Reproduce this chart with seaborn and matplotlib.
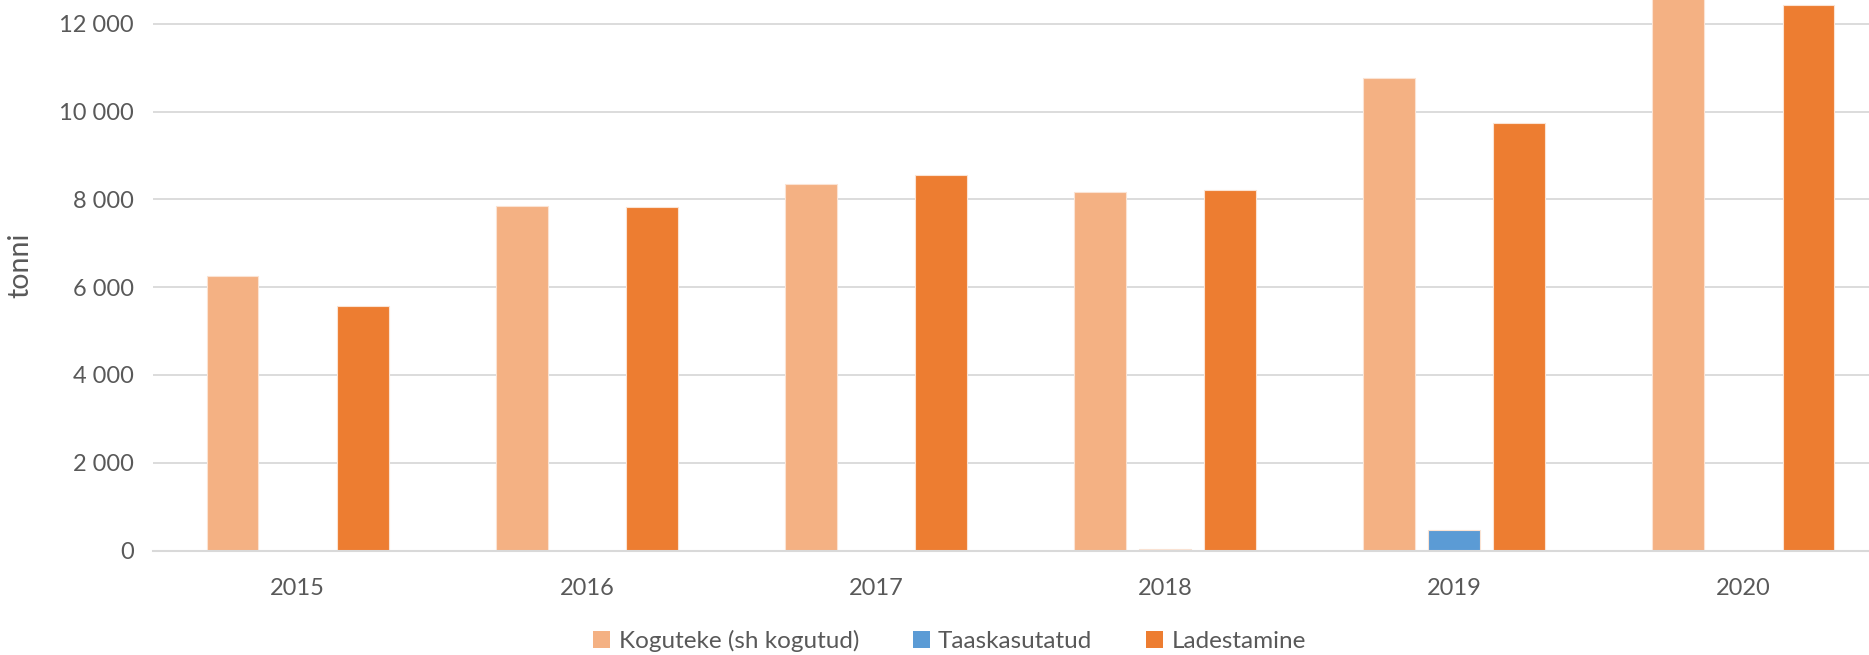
import numpy as np
import pandas as pd
import matplotlib
matplotlib.use("Agg")
import matplotlib.pyplot as plt
import seaborn as sns
from matplotlib.ticker import FuncFormatter, MultipleLocator
from matplotlib.patches import Patch

# ============================================================
# DATA (tonni)
# ============================================================
years = ["2015", "2016", "2017", "2018", "2019", "2020"]
series_names = ["Koguteke (sh kogutud)", "Taaskasutatud", "Ladestamine"]
koguteke = [6250, 7850, 8355, 8170, 10765, 13000]
taaskasutatud = [0, 0, 0, 30, 460, 0]
ladestamine = [5570, 7820, 8560, 8215, 9735, 12425]
colors = ["#F4B183", "#5B9BD5", "#ED7D31"]

df = pd.DataFrame({
    "year": years * 3,
    "series": np.repeat(series_names, len(years)),
    "value": koguteke + taaskasutatud + ladestamine,
})

# ============================================================
# PLOT
# ============================================================
sns.set_theme(style="white")
plt.rcParams["font.family"] = ["Lato", "DejaVu Sans"]
text_color = "#595959"

fig = plt.figure(figsize=(18.69, 6.55), dpi=100)
# the plot area runs a little past the right edge of the picture
ax = fig.add_axes([0.082, 0.1595, 0.928, 0.8405])

# narrow bars with wide gaps, like the Excel original
sns.barplot(
    data=df, x="year", y="value", hue="series",
    hue_order=series_names, palette=colors,
    width=0.675, gap=0.21, saturation=1,
    edgecolor="#FBE3D3", linewidth=0.8,
    legend=False, ax=ax,
)

ax.set_ylim(0, 12540)
ax.set_xlim(-0.5, len(years) - 0.5)
ax.yaxis.set_major_locator(MultipleLocator(2000))
ax.yaxis.set_major_formatter(FuncFormatter(lambda v, p: f"{v:,.0f}".replace(",", " ")))
ax.grid(axis="y", color="#D9D9D9", linewidth=1.3)
ax.set_axisbelow(True)
for s in ["top", "right", "left"]:
    ax.spines[s].set_visible(False)
ax.spines["bottom"].set_color("#D9D9D9")
ax.spines["bottom"].set_linewidth(1.5)

ax.tick_params(axis="both", length=0, labelsize=17, colors=text_color)
ax.tick_params(axis="x", pad=20)
ax.tick_params(axis="y", pad=14)
ax.set_xlabel("")
ax.set_ylabel("tonni", fontsize=20.5, color=text_color)
ax.yaxis.set_label_coords(-0.069, 0.518)

handles = [Patch(facecolor=c, edgecolor="none") for c in colors]
fig.legend(
    handles, series_names, loc="center", bbox_to_anchor=(0.508, 0.022),
    ncol=3, frameon=False, fontsize=17.5, labelcolor=text_color,
    handlelength=0.7, handleheight=0.7, handletextpad=0.35, columnspacing=2.2,
)

fig.savefig("out.png", dpi=100)
